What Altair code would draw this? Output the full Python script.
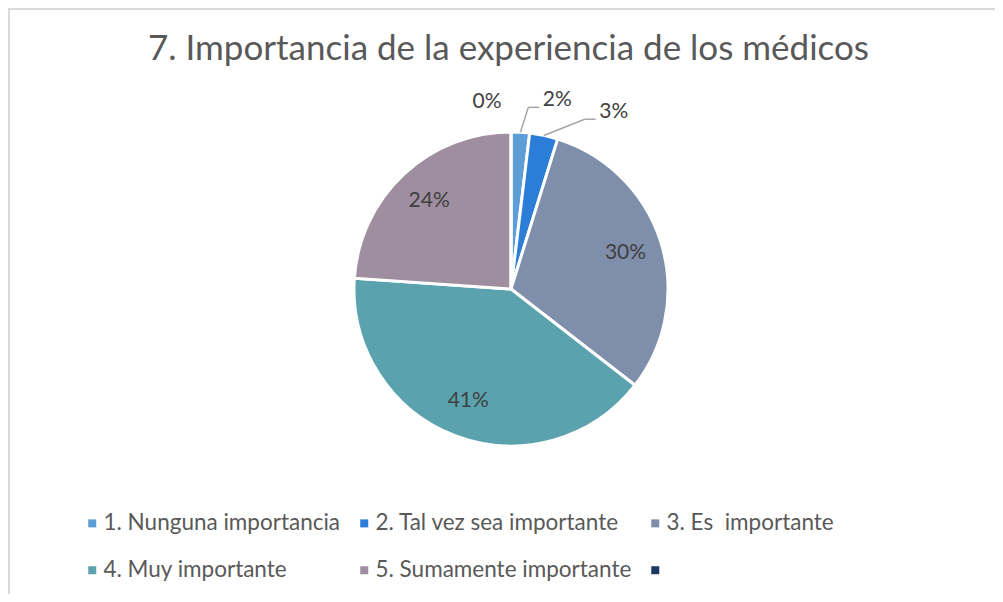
import altair as alt
import pandas as pd

# ---- data ----
categorias = ["1. Nunguna importancia", "2. Tal vez sea importante", "3. Es\u00a0 importante",
              "4. Muy importante", "5. Sumamente importante", " "]
valores = [1.9, 2.9, 30.7, 40.6, 23.9, 0.0]
etiquetas = ["2%", "3%", "30%", "41%", "24%", "0%"]
orden = [0, 1, 2, 3, 4, 5]

colores = ["#5e9ed6", "#2b7dd8", "#7f8eaa", "#5aa3ae", "#9e8e9f", "#1f3864"]

W, H = 987, 586
CX, CY, R = 503, 281, 157
R_IN, R_OUT = 120, 190
FONT = "Lato"

df = pd.DataFrame({"categoria": categorias, "valor": valores,
                   "etiqueta": etiquetas, "orden": orden})

base = (
    alt.Chart(df)
    .transform_window(cum="sum(valor)", sort=[alt.SortField("orden")])
    .transform_joinaggregate(total="sum(valor)")
    .transform_calculate(
        a1="datum.cum / datum.total * 2 * PI",
        a0="(datum.cum - datum.valor) / datum.total * 2 * PI",
    )
    .transform_calculate(mid="(datum.a0 + datum.a1) / 2")
    .transform_calculate(
        ex=f"{CX} + {R} * sin(datum.mid)",
        ey=f"{CY} - {R} * cos(datum.mid)",
        ix=f"{CX} + {R_IN} * sin(datum.mid)",
        iy=f"{CY} - {R_IN} * cos(datum.mid)",
        ox=f"{CX} + {R_OUT} * sin(datum.mid)",
        oy=f"{CY} - {R_OUT} * cos(datum.mid)",
    )
)

arcs = base.mark_arc(outerRadius=R, stroke="white", strokeWidth=3).encode(
    theta=alt.Theta("a0:Q", scale=None, stack=None),
    theta2="a1:Q",
    x=alt.value(CX),
    y=alt.value(CY),
    color=alt.Color(
        "categoria:N",
        scale=alt.Scale(domain=categorias, range=colores),
        legend=alt.Legend(
            title=None, orient="none", legendX=73, legendY=504,
            direction="horizontal", columns=3,
            symbolType="square", symbolSize=64, symbolStrokeWidth=0,
            labelFont=FONT, labelFontSize=22.5, labelColor="#595959",
            labelOffset=0, columnPadding=12, rowPadding=24, labelLimit=400,
        ),
    ),
    order=alt.Order("orden:Q"),
)

text_style = dict(font=FONT, fontSize=21, color="#404040", align="center", baseline="middle")

inside = base.transform_filter("datum.valor >= 10").mark_text(**text_style).encode(
    x=alt.X("ix:Q", scale=None), y=alt.Y("iy:Q", scale=None), text="etiqueta:N"
)

# outside labels: category -> (shift x, shift y, leader line)
fuera = {
    "1. Nunguna importancia": (35, 1, True),
    "2. Tal vez sea importante": (63, 9, True),
    " ": (-24, 3, False),
}

layers = [arcs, inside]
for cat, (sx, sy, leader) in fuera.items():
    sub = base.transform_filter(alt.datum.categoria == cat).transform_calculate(
        lx=f"datum.ox + {sx}", ly=f"datum.oy + {sy}"
    )
    layers.append(
        sub.mark_text(**text_style).encode(
            x=alt.X("lx:Q", scale=None), y=alt.Y("ly:Q", scale=None), text="etiqueta:N"
        )
    )
    if leader:
        seg = sub.transform_calculate(
            bx="datum.lx - 29", by="datum.ly + 7", cx2="datum.lx - 18"
        )
        layers.append(
            seg.mark_rule(color="#a6a6a6", strokeWidth=1.5).encode(
                x=alt.X("ex:Q", scale=None), y=alt.Y("ey:Q", scale=None),
                x2="bx:Q", y2="by:Q",
            )
        )
        layers.append(
            seg.mark_rule(color="#a6a6a6", strokeWidth=1.5).encode(
                x=alt.X("bx:Q", scale=None), y=alt.Y("by:Q", scale=None),
                x2="cx2:Q", y2="by:Q",
            )
        )

frame_df = pd.DataFrame({"k": [0]})
top_rule = alt.Chart(frame_df).mark_rule(color="#d9d9d9", strokeWidth=2).encode(
    x=alt.value(0), x2=alt.value(W), y=alt.value(1)
)
left_rule = alt.Chart(frame_df).mark_rule(color="#d9d9d9", strokeWidth=2).encode(
    x=alt.value(1), y=alt.value(0), y2=alt.value(H)
)
layers = [top_rule, left_rule] + layers

chart = (
    alt.layer(*layers)
    .properties(
        width=W, height=H,
        autosize=alt.AutoSizeParams(type="none"),
        padding=0,
        title=alt.Title(
            "7. Importancia de la experiencia de los médicos",
            font=FONT, fontSize=35, fontWeight="normal", color="#595959",
            anchor="middle", offset=-88, baseline="alphabetic", dx=7,
        ),
    )
    .configure_view(stroke=None)
    .configure(background="white")
)

chart.save("out.html", embed_options={"renderer": "svg", "actions": False})
